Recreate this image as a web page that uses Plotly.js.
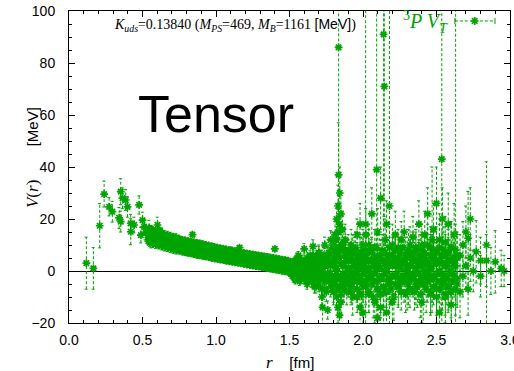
<!DOCTYPE html>
<html><head><meta charset="utf-8">
<script src="https://cdn.plot.ly/plotly-3.0.1.min.js"></script>
<style>html,body{margin:0;padding:0;background:#fff}</style>
</head><body><div id="chart" style="width:514px;height:371px"></div>
<script>
// ---- data: r [fm], V(r) [MeV], error [MeV] ----
// short distance, sparse points
const rA = [0.118,0.166,0.209,0.239,0.273,0.295,0.341,0.352,0.364,0.386,0.398,0.352,0.42,0.42,0.443,0.477,0.5,0.511,0.489,0.52,0.545,0.557,0.602,0.59,0.625,0.648,0.68,0.705,0.73];
const VA = [3,1,17.4,29.6,24.7,22.8,20.4,30.5,28,27.3,24.7,19,18.3,15.1,17.7,25.4,19.6,17,13.8,15,16.5,11.9,17.7,13.5,14.6,12,12.5,10.5,11];
const eA = [10,8,8.5,5,3.5,4,4,5,4,4,4,4,3.5,5,3,3.5,3,3,3,3,3,3,3,2,2,2,2,2,2];
// dense band, three points per r
const rB = [0.54,0.56,0.58,0.60,0.62,0.64,0.66,0.68,0.70,0.72,
            0.74,0.76,0.78,0.80,0.82,0.84,0.86,0.88,0.90,0.92,
            0.94,0.96,0.98,1.00,1.02,1.04,1.06,1.08,1.10,1.12,
            1.14,1.16,1.18,1.20,1.22,1.24,1.26,1.28,1.30,1.32,
            1.34,1.36,1.38,1.40,1.42,1.44,1.46,1.48,1.50];
const VBa = [15.5,14,13.5,12.8,13,12,11.5,11,10.8,10.5,
             10,9.8,9.5,9.2,9,8.7,8.5,8.2,8,7.8,
             7.5,7.2,7,6.8,6.5,6.3,6,5.8,5.6,5.4,
             5.2,5,4.8,4.6,4.4,4.2,4,3.8,3.6,3.4,
             3.2,3,2.8,2.6,2.4,2.2,2,1.8,1.6];
const VBb = [13,12.5,11,14.5,11.5,10,13,12.5,12.8,11.8,
             11.5,11.2,10.8,10.5,10.2,14,9.8,9.6,9.3,9,
             8.8,8.6,8.3,8,7.8,7.5,7.3,7,8,6.6,
             6.4,9,6,5.8,5.6,5.4,5.2,5,4.8,5.5,
             4.5,4.2,4,8.5,3.6,3.4,3.2,3,2.8];
const VBc = [11.5,16,15,10.5,15.5,13.8,9.8,9.5,9,8.8,
             8.5,8,7.8,7.5,7.2,7,6.8,6.6,6.4,6.2,
             6,5.8,5.5,5.3,5,4.8,4.6,4.4,4.2,4,
             3.8,3.6,3.4,3.2,3,2.8,2.6,2.4,2.2,2,
             1.8,1.6,1.3,1.1,0.9,0.7,0.5,0.3,0.1];
const eB = [1.5,1.5,1.5,1.2,1.2,1.2,1,1,1,1,
            1,1,1,0.9,0.9,0.9,0.8,0.8,0.8,0.8,
            0.8,0.7,0.7,0.7,0.7,0.7,0.7,0.7,0.7,0.7,
            0.7,0.7,0.7,0.7,0.7,0.7,0.7,0.7,0.7,0.8,
            0.8,0.8,0.8,0.8,0.8,0.8,0.9,0.9,0.9];
// band edges, two points per r
const rB2 = [0.55,0.57,0.59,0.61,0.63,0.65,0.67,0.69,0.71,0.73,
             0.75,0.77,0.79,0.81,0.83,0.85,0.87,0.89,0.91,0.93,
             0.95,0.97,0.99,1.01,1.03,1.05,1.07,1.09,1.11,1.13,
             1.15,1.17,1.19,1.21,1.23,1.25,1.27,1.29,1.31,1.33,
             1.35,1.37,1.39,1.41,1.43,1.45,1.47,1.49];
const VBd = [16,15.5,15,15.2,14.5,14,13.8,13.4,13,12.8,
             12.4,12,11.8,11.5,11.2,11,10.8,10.6,10.3,10,
             9.8,9.6,9.3,9,8.8,8.6,8.3,8,7.9,7.6,
             7.4,7.2,7,6.8,6.6,6.4,6.2,6,5.8,5.6,
             5.4,5.2,5,4.8,4.6,4.4,4.2,4];
const VBe = [11,10.5,10.2,10,9.6,9.2,9,8.6,8.3,8,
             7.8,7.5,7.2,7,6.8,6.5,6.2,6,5.8,5.6,
             5.3,5,4.8,4.6,4.4,4.2,3.9,3.7,3.5,3.3,
             3.1,2.9,2.7,2.5,2.3,2.1,1.9,1.7,1.5,1.3,
             1.1,0.9,0.7,0.5,0.3,0.1,-0.1,-0.3];
const eB2 = [1.5,1.5,1.5,1.5,1.5,1.5,1.5,1.5,1.5,1.5,
             1.2,1.2,1.2,1.2,1.2,1.2,1.2,1.2,1.2,1.2,
             1,1,1,1,1,1,1,1,1,1,
             1,1,1,1,1,1,1,1,1,1,
             1.2,1.2,1.2,1.2,1.2,1.2,1.2,1.2];
// widening band
const rC = [1.52,1.54,1.56,1.58,1.60,1.62,1.64,1.66,1.68,1.70,1.72,1.74,1.76,1.78];
const VCa = [1.5,1,2,0.5,1.5,0,1,2.5,0.5,1.5,0,2,-1,3];
const VCb = [3.5,4,-1.5,3,8.5,3.5,6,-1.5,4,-3,5,-7,6,-4];
const VCc = [-1,-3.5,6,-2.5,-1,-4,-2,9.5,-6,7,-10,10,-15,12];
const eC = [1.2,1.5,1.5,1.5,2,2,2,2.5,2.5,2.5,3,3,3.5,3.5];
const rC2 = [1.51,1.52,1.53,1.54,1.55,1.56,1.57,1.58,1.59,1.60,
             1.61,1.62,1.63,1.64,1.65,1.66,1.67,1.68,1.69,1.70,
             1.71,1.72,1.73,1.74,1.75];
const VC2a = [2,3,1,4,2,3,5,1,3,4,2,5,3,1,4,6,2,5,3,7,1,4,6,2,5];
const VC2b = [-1,-2,0,-3,-1,-2,-4,0,-2,-3,-1,-5,-2,0,-4,-2,-6,-3,-1,-5,-3,-7,-2,-4,-8];
const eC2 = [1.2,1.2,1.3,1.3,1.4,1.5,1.5,1.6,1.7,1.8,1.8,2,2,2.2,2.3,2.5,2.5,2.7,2.8,3,3,3.2,3.5,3.5,3.8];
// noisy long distance region, dense core
const rD2 = [1.76,1.77,1.78,1.79,1.80,1.81,1.82,1.83,1.84,1.85,
             1.86,1.87,1.88,1.89,1.90,1.91,1.92,1.93,1.94,1.95,
             1.96,1.97,1.98,1.99,2.00,2.01,2.02,2.03,2.04,2.05,
             2.06,2.07,2.08,2.09,2.10,2.11,2.12,2.13,2.14,2.15,
             2.16,2.17,2.18,2.19,2.20,2.21,2.22,2.23,2.24,2.25,
             2.26,2.27,2.28,2.29,2.30,2.31,2.32,2.33,2.34,2.35,
             2.36,2.37,2.38,2.39,2.40,2.41,2.42,2.43,2.44,2.45,
             2.46,2.47,2.48,2.49,2.50,2.51,2.52,2.53,2.54,2.55,
             2.56,2.57,2.58,2.59,2.60,2.61,2.62,2.63,2.64];
const VD2a = [4,7,2,9,3,6,1,8,5,3,
              9,2,6,4,8,1,5,7,3,9,
              4,2,7,5,10,3,6,1,8,4,
              7,2,5,9,3,6,1,8,4,7,
              2,5,9,3,6,4,8,2,5,7,
              3,9,4,6,2,8,5,3,7,4,
              9,2,6,5,8,3,7,4,10,2,
              6,5,8,3,7,4,9,5,3,8,
              6,2,7,4,9,5,3,8,6];
const VD2b = [-3,-1,-6,-2,-8,-4,-1,-7,-3,-9,
              -2,-5,-1,-8,-4,-2,-6,-10,-3,-1,
              -7,-4,-2,-9,-5,-1,-6,-3,-8,-2,
              -5,-10,-1,-4,-7,-3,-9,-2,-6,-1,
              -8,-4,-3,-7,-2,-10,-5,-1,-6,-3,
              -8,-2,-4,-9,-1,-5,-7,-3,-2,-8,
              -4,-6,-1,-9,-3,-5,-2,-7,-4,-1,
              -8,-3,-6,-2,-10,-4,-1,-7,-5,-2,
              -9,-3,-6,-1,-8,-4,-2,-7,-5];
const eD2 = [4,5,4,6,5,4,6,5,5,4,
             6,5,7,5,6,4,6,7,5,6,
             5,7,6,8,6,5,7,6,8,7,
             6,8,5,7,6,8,7,6,8,7,
             6,7,8,6,7,9,6,7,8,6,
             7,6,8,7,6,8,7,6,8,7,
             7,8,6,9,7,8,7,9,8,7,
             8,9,7,8,10,8,9,8,10,9,
             8,10,9,8,10,9,8,10,9];
// noisy long distance region, scattered points and large errors
const rD = [1.725,
 1.80,1.80,1.80,1.80,
 1.81,1.81,1.81,1.81,
 1.82,1.82,1.82,1.82,
 1.83,1.83,1.83,1.83,
 1.834,1.834,1.842,1.84,1.84,1.84,
 1.85,1.85,1.85,1.85,
 1.86,1.86,1.86,
 1.87,1.87,1.87,
 1.88,1.88,1.88,
 1.90,1.90,1.90,
 1.92,1.92,1.92,1.92,
 1.94,1.94,1.94,
 1.96,1.96,1.96,1.96,
 1.98,1.98,1.98,1.98,
 2.00,2.00,2.00,2.00,
 2.018,2.02,2.02,2.02,
 2.04,2.04,2.04,
 2.06,2.06,2.06,
 2.08,2.08,2.08,2.093,
 2.10,2.10,2.10,2.10,
 2.12,2.12,2.12,2.12,
 2.14,2.145,2.15,2.15,2.15,
 2.16,2.16,2.16,
 2.18,2.18,2.18,
 2.20,2.20,2.20,
 2.22,2.22,2.22,
 2.24,2.24,2.24,
 2.26,2.26,2.26,
 2.28,2.28,2.28,
 2.30,2.30,2.30,
 2.32,2.32,2.32,
 2.34,2.34,2.34,
 2.36,2.36,2.36,
 2.38,2.38,2.38,
 2.40,2.40,2.40,2.41,
 2.42,2.42,2.42,
 2.44,2.44,2.44,
 2.46,2.46,2.46,2.47,
 2.48,2.48,2.48,
 2.50,2.50,2.50,
 2.52,2.52,2.52,2.536,
 2.54,2.54,2.54,
 2.56,2.56,2.56,
 2.58,2.58,2.58,
 2.60,2.60,2.60,
 2.62,2.62,2.63,2.64,2.64,
 2.66,2.66,2.68,2.68,2.70,2.70,
 2.715,2.715,2.73,2.73,2.75,2.77,
 2.80,2.80,2.84,2.84,2.87,2.90,2.94,2.96];
const VD = [-14,
 5,-3,10,-8,
 8,-5,14,2,
 12,20,-10,4,
 25,15,-14,6,
 86,37,30,18,-6,-17,
 22,10,-2,-12,
 8,16,-4,
 3,-7,11,
 6,-2,12,
 1,7,-5,
 -1,4,10,-8,
 2,-4,8,
 0,6,-10,14,
 3,-3,-14,18,
 1,8,-6,-16,
 18,14,-4,5,
 0,10,-9,
 4,-3,22,
 2,-12,9,39,
 1,15,-7,-18,
 5,-3,28,-14,
 91,71,3,-8,12,
 0,18,-16,
 25,6,-5,
 2,10,-12,
 -2,14,5,
 3,-6,9,
 1,12,-4,
 4,-2,15,
 0,7,-8,
 2,10,-3,
 5,-1,13,
 1,8,-6,
 4,-4,18,
 2,10,-12,-5,
 6,0,14,
 3,22,-3,
 1,9,-9,12,
 5,16,-2,
 3,26,-7,
 0,12,-16,43,
 6,-4,20,
 2,11,-10,
 4,18,-6,
 0,9,-13,
 3,14,2,5,-3,
 6,-8,10,-2,2,15,
 12.6,-7,20,5,0,7.4,
 -2,4,10,4,0,3.5,1,0];
const eD = [7,
 3,3,4,4,
 4,4,5,3,
 5,6,5,4,
 8,6,6,4,
 65,20,10,8,6,6,
 8,6,5,6,
 5,7,5,
 4,5,5,
 4,4,6,
 4,5,4,
 4,4,6,5,
 4,5,5,
 5,5,6,6,
 5,5,7,8,
 6,6,6,8,
 90,10,6,5,
 6,8,7,
 6,6,10,
 6,8,7,70,
 7,9,7,9,
 7,7,12,9,
 120,50,7,8,8,
 7,9,9,
 80,7,8,
 7,8,9,
 7,9,7,
 6,7,7,
 6,7,6,
 6,6,8,
 6,6,7,
 6,7,6,
 6,6,8,
 6,7,7,
 7,7,9,
 7,8,8,16,
 7,7,9,
 7,10,7,
 7,8,8,28,
 8,10,8,
 8,14,10,
 8,10,10,70,
 9,9,12,
 9,10,10,
 9,12,10,
 10,10,12,
 10,12,110,10,10,
 8,10,9,8,9,10,
 18,10,12,9,8,12,
 8,9,32,10,9,12,7,6];

const xTicks = [0, 0.5, 1.0, 1.5, 2.0, 2.5, 3.0];
const xTickText = ['0.0','0.5','1.0','1.5','2.0','2.5','3.0'];
const yTicks = [-20, 0, 20, 40, 60, 80, 100];

// ---- assemble ----
const GREEN = '#00a400';
const rAll = [].concat(rA, rB, rB, rB, rB2, rB2, rC, rC, rC, rC2, rC2, rD2, rD2, rD);
const VAll = [].concat(VA, VBa, VBb, VBc, VBd, VBe, VCa, VCb, VCc, VC2a, VC2b, VD2a, VD2b, VD);
const eAll = [].concat(eA, eB, eB, eB, eB2, eB2, eC, eC, eC, eC2, eC2, eD2, eD2, eD);

const capHalf = 0.012;
const bx = [], by = [];
for (let i = 0; i < rAll.length; i++) {
  const x = rAll[i], v = VAll[i], e = eAll[i];
  bx.push(x, x, null); by.push(v - e, v + e, null);
  bx.push(x - capHalf, x + capHalf, null); by.push(v + e, v + e, null);
  bx.push(x - capHalf, x + capHalf, null); by.push(v - e, v - e, null);
}

const serif = 'Liberation Serif, Times New Roman, serif';
const sans = 'Liberation Sans, Arial, Helvetica, sans-serif';
const markerStyle = {symbol:'asterisk-open', size:6.5, color:GREEN, line:{color:GREEN, width:1.7}};

const traces = [
  {type:'scatter', mode:'lines', x:bx, y:by, hoverinfo:'skip', showlegend:false,
   line:{color:GREEN, width:1, dash:'3px,2px'}},
  {type:'scatter', mode:'markers', x:rAll, y:VAll, showlegend:false, name:'3P VT',
   marker:markerStyle},
  // legend sample marker (overlay axes spanning the plot area)
  {type:'scatter', mode:'markers', x:[0.92], y:[0.968], xaxis:'x2', yaxis:'y2', showlegend:false, hoverinfo:'skip',
   marker:markerStyle}
];

const axisCommon = {
  showline:true, linecolor:'#000', linewidth:1, mirror:'allticks',
  ticks:'inside', ticklen:6, tickcolor:'#000', tickwidth:1,
  showgrid:false, tickfont:{family:sans, size:14, color:'#000'}
};

const layout = {
  width:514, height:371,
  margin:{l:69, r:4, t:11, b:48, pad:0},
  paper_bgcolor:'#fff', plot_bgcolor:'#fff',
  showlegend:false,
  xaxis:Object.assign({}, axisCommon, {
    range:[0,3], tickmode:'array', tickvals:xTicks, ticktext:xTickText, zeroline:false,
    ticklabelstandoff:4, ticklabeloverflow:'allow',
    minor:{dtick:0.1, tick0:0, ticks:'inside', ticklen:3, tickcolor:'#000'}
  }),
  yaxis:Object.assign({}, axisCommon, {
    range:[-20,100], tickmode:'array', tickvals:yTicks,
    zeroline:true, zerolinecolor:'#000', zerolinewidth:1,
    ticklabelstandoff:10,
    minor:{dtick:5, tick0:0, ticks:'inside', ticklen:3, tickcolor:'#000'}
  }),
  xaxis2:{overlaying:'x', range:[0,1], visible:false, fixedrange:true},
  yaxis2:{overlaying:'y', range:[0,1], visible:false, fixedrange:true},
  shapes:[
    {type:'line', xref:'paper', yref:'paper', x0:0.875, x1:0.966, y0:0.968, y1:0.968,
     line:{color:GREEN, width:1, dash:'3px,2px'}},
    {type:'line', xref:'paper', yref:'paper', x0:0.875, x1:0.875, y0:0.958, y1:0.978,
     line:{color:GREEN, width:1}},
    {type:'line', xref:'paper', yref:'paper', x0:0.966, x1:0.966, y0:0.958, y1:0.978,
     line:{color:GREEN, width:1}}
  ],
  annotations:[
    {xref:'paper', yref:'paper', x:0.098, y:0.955, xanchor:'left', yanchor:'middle', showarrow:false,
     font:{family:serif, size:14, color:'#000'},
     text:'<i>K<sub>uds</sub></i>=0.13840 (<i>M<sub>PS</sub></i>=469, <i>M<sub>B</sub></i>=1161 <span style="font-family:Liberation Sans">[MeV]</span>)'},
    {xref:'paper', yref:'paper', x:0.334, y:0.67, xanchor:'center', yanchor:'middle', showarrow:false,
     font:{family:sans, size:52, color:'#000'}, text:'Tensor'},
    {xref:'paper', yref:'paper', x:0.865, y:0.966, xanchor:'right', yanchor:'middle', showarrow:false,
     font:{family:serif, size:20, color:GREEN}, text:'<sup>3</sup><i>P V<sub>T</sub></i>'},
    {xref:'paper', yref:'paper', x:0.502, y:-0.125, xanchor:'center', yanchor:'middle', showarrow:false,
     font:{family:sans, size:15, color:'#000'},
     text:'<span style="font-family:Liberation Serif;font-size:17px"><i>r</i></span>&nbsp;&nbsp;&nbsp;&nbsp;[fm]'},
    {xref:'paper', yref:'paper', x:-0.083, y:0.53, xanchor:'center', yanchor:'middle', showarrow:false,
     textangle:-90, font:{family:sans, size:15, color:'#000'},
     text:'<span style="font-family:Liberation Serif;font-size:17px"><i>V</i>(<i>r</i>)</span>&nbsp;&nbsp;&nbsp;&nbsp;&nbsp;&nbsp;&nbsp;&nbsp;[MeV]'}
  ]
};

Plotly.newPlot('chart', traces, layout, {staticPlot:true, displayModeBar:false});
</script>
</body></html>
